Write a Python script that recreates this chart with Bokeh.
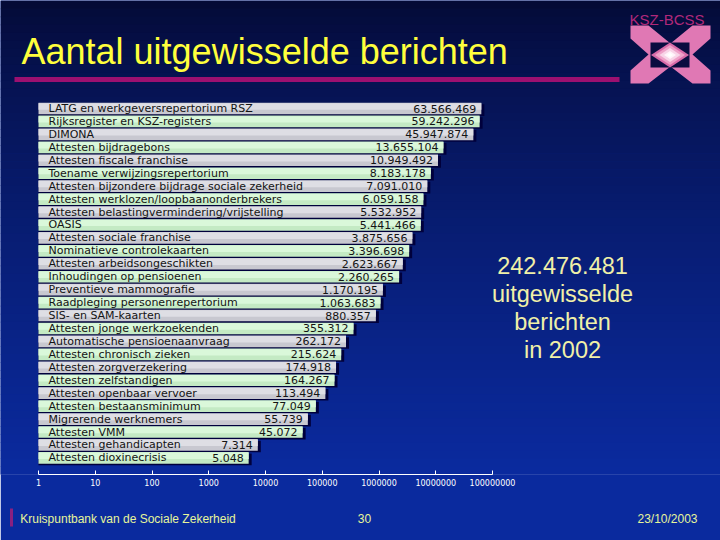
import numpy as np
from bokeh.plotting import figure
from bokeh.models import (Range1d, FixedTicker, CustomJSTickFormatter,
                          ColumnDataSource, LinearScale, LinearAxis)
from bokeh.core.properties import value
from bokeh.embed import file_html
from bokeh.resources import INLINE

# ---------------- data ----------------
categories = [
    "LATG en werkgeversrepertorium RSZ",
    "Rijksregister en KSZ-registers",
    "DIMONA",
    "Attesten bijdragebons",
    "Attesten fiscale franchise",
    "Toename verwijzingsrepertorium",
    "Attesten bijzondere bijdrage sociale zekerheid",
    "Attesten werklozen/loopbaanonderbrekers",
    "Attesten belastingvermindering/vrijstelling",
    "OASIS",
    "Attesten sociale franchise",
    "Nominatieve controlekaarten",
    "Attesten arbeidsongeschikten",
    "Inhoudingen op pensioenen",
    "Preventieve mammografie",
    "Raadpleging personenrepertorium",
    "SIS- en SAM-kaarten",
    "Attesten jonge werkzoekenden",
    "Automatische pensioenaanvraag",
    "Attesten chronisch zieken",
    "Attesten zorgverzekering",
    "Attesten zelfstandigen",
    "Attesten openbaar vervoer",
    "Attesten bestaansminimum",
    "Migrerende werknemers",
    "Attesten VMM",
    "Attesten gehandicapten",
    "Attesten dioxinecrisis",
]
messages = [
    63566469, 59242296, 45947874, 13655104, 10949492, 8183178, 7091010,
    6059158, 5532952, 5441466, 3875656, 3396698, 2623667, 2260265,
    1170195, 1063683, 880357, 355312, 262172, 215624, 174918, 164267,
    113494, 77049, 55739, 45072, 7314, 5048,
]
tick_values = [1, 10, 100, 1000, 10000, 100000, 1000000, 10000000, 100000000]
tick_labels = ["1", "10", "100", "1000", "10000", "100000", "1000000",
               "10000000", "100000000"]
title_text = "Aantal uitgewisselde berichten"
total_lines = ["242.476.481", "uitgewisselde", "berichten", "in 2002"]
logo_text = "KSZ-BCSS"
footer_texts = ["Kruispuntbank van de Sociale Zekerheid", "30", "23/10/2003"]

# ---------------- layout ----------------
W, H = 720, 540
FRAME_H = 474
X0_PX = 38.0          # pixel of value 1
DEC_PX = 56.75        # pixels per decade
PITCH = 12.94         # pixels per row
FIRST_CENTER = 108.0  # pixel of first row centre (from top)

n = len(categories)
x_start = 10 ** (-X0_PX / DEC_PX)
x_end = 10 ** ((W - X0_PX) / DEC_PX)
y_end = (n - 1) + FIRST_CENTER / PITCH
y_start = y_end - FRAME_H / PITCH

p = figure(width=W, height=H, x_axis_type="log",
           x_range=Range1d(x_start, x_end), y_range=Range1d(y_start, y_end),
           y_axis_location=None, output_backend="svg", toolbar_location=None,
           min_border_left=0, min_border_right=0, min_border_top=0,
           min_border_bottom=H - FRAME_H)
p.extra_x_ranges = {"px": Range1d(0, W)}
p.extra_y_ranges = {"px": Range1d(FRAME_H, 0)}
p.extra_x_scales = {"px": LinearScale()}
p.extra_y_scales = {"px": LinearScale()}
p.xgrid.visible = False
p.ygrid.visible = False
p.outline_line_color = None
BOTTOM_BG = "#0a2a9e"
p.background_fill_color = BOTTOM_BG
p.border_fill_color = BOTTOM_BG

PX = dict(x_range_name="px", y_range_name="px")

# background gradient
def mix(c1, c2, t):
    a = [int(c1[i:i + 2], 16) for i in (1, 3, 5)]
    b = [int(c2[i:i + 2], 16) for i in (1, 3, 5)]
    return "#%02x%02x%02x" % tuple(int(round(a[k] + (b[k] - a[k]) * t)) for k in range(3))

edges = np.linspace(0, FRAME_H, 60)
bg_cols = [mix("#040a36", BOTTOM_BG, (i / 58) ** 0.75) for i in range(59)]
p.quad(left=0, right=W, top=edges[:-1], bottom=edges[1:] + 0.6, fill_color=bg_cols,
       line_color=None, **PX)

# ---------------- bars ----------------
ypos = np.arange(n)[::-1].astype(float)
value_labels = [f"{v:,}".replace(",", ".") for v in messages]
base_cols = ["#c8c8d0" if k % 2 == 0 else "#c4eac4" for k in range(n)]
top_cols = ["#dedee4" if k % 2 == 0 else "#daf8da" for k in range(n)]
src = ColumnDataSource(dict(y=ypos, ys=ypos - 0.12, yt=ypos + 0.16,
                            v=messages, vs=[v * 1.13 for v in messages],
                            name=categories, lab=value_labels,
                            base=base_cols, top=top_cols))

p.hbar(y="ys", left=1, right="vs", height=0.9, source=src,
       fill_color="#00003c", line_color=None)
p.hbar(y="y", left=1, right="v", height=0.9, source=src,
       fill_color="base", line_color=None)
p.hbar(y="yt", left=1, right="v", height=0.5, source=src,
       fill_color="top", line_color=None)

p.text(x=1, y="y", text="name", source=src, x_offset=10,
       text_align="left", text_baseline="middle",
       text_font=value("DejaVu Sans"), text_font_size="11px", text_color="#141414")
p.text(x="v", y="y", text="lab", source=src, x_offset=-5,
       text_align="right", text_baseline="middle",
       text_font=value("DejaVu Sans"), text_font_size="11px", text_color="#141414")

# ---------------- axis ----------------
ax = p.xaxis[0]
ax.ticker = FixedTicker(ticks=tick_values)
ax.formatter = CustomJSTickFormatter(
    args=dict(pos=tick_values, labs=tick_labels),
    code="const i = pos.indexOf(tick); return i >= 0 ? labs[i] : tick.toFixed(0);")
ax.bounds = (tick_values[0], tick_values[-1])
ax.axis_line_color = "white"
ax.major_tick_line_color = "white"
ax.minor_tick_line_color = None
ax.major_tick_in = 4
ax.major_tick_out = 0
ax.major_label_standoff = 4
ax.major_label_text_color = "white"
ax.major_label_text_font = "DejaVu Sans"
ax.major_label_text_font_size = "8px"

# footer as a second (line-less) axis below
foot_pos = [127.5, 364.0, 667.0]
fax = LinearAxis(x_range_name="px",
                 ticker=FixedTicker(ticks=foot_pos, minor_ticks=[11.0]),
                 formatter=CustomJSTickFormatter(
                     args=dict(pos=foot_pos, labs=footer_texts),
                     code="const i = pos.indexOf(tick); return i >= 0 ? labs[i] : '';"))
fax.axis_line_color = None
fax.major_tick_line_color = None
fax.major_tick_in = 0
fax.major_tick_out = 0
fax.minor_tick_line_color = "#8a2080"
fax.minor_tick_line_width = 3
fax.minor_tick_in = -20
fax.minor_tick_out = 38
fax.major_label_standoff = -15
fax.major_label_text_color = "#e6f59a"
fax.major_label_text_font = "Liberation Sans"
fax.major_label_text_font_size = "12px"
p.add_layout(fax, "below")

# ---------------- decorations ----------------
# title + rule
p.text(x=[21], y=[50.5], text=[title_text], text_font=value("Liberation Sans"),
       text_font_size="36px", text_color="#ffff3c", text_baseline="middle", **PX)
p.quad(left=[14], right=[619], top=[76.5], bottom=[81.5], fill_color="#9c1070",
       line_color=None, **PX)

# logo
xs = [630, 648, 670, 692, 710, 710, 692, 710, 710, 692, 670, 648, 630, 630, 648, 630]
ys = [25, 25, 43, 25, 25, 38, 54, 70, 83, 83, 66, 83, 83, 70, 54, 38]
p.patch(xs, ys, fill_color="#e078b4", line_color=None, **PX)
p.quad(left=[650], right=[689], top=[42], bottom=[67],
       fill_color="#0a0c40", line_color=None, **PX)
cx, cy = 669.5, 54.5
for (hw, hh, col) in [(19, 12.5, "#d86aa8"), (15, 10, "#eea0c8"),
                      (10.5, 7, "#f8d4e8"), (6, 4, "#fff4fa"), (3, 2, "#ffffff")]:
    p.patch([cx - hw, cx, cx + hw, cx], [cy, cy - hh, cy, cy + hh], fill_color=col,
            line_color=None, **PX)
p.text(x=[629], y=[18.5], text=[logo_text], text_font=value("Liberation Sans"),
       text_font_size="15px", text_color="#b0287a", text_baseline="middle", **PX)

# total text on right
p.text(x=[562] * 4, y=[265 + 28 * i for i in range(4)], text=total_lines,
       text_font=value("Liberation Sans"), text_font_size="23.5px",
       text_color="#f0f0a8", text_align="center", text_baseline="middle", **PX)

open("out.html", "w").write(file_html(p, INLINE))
